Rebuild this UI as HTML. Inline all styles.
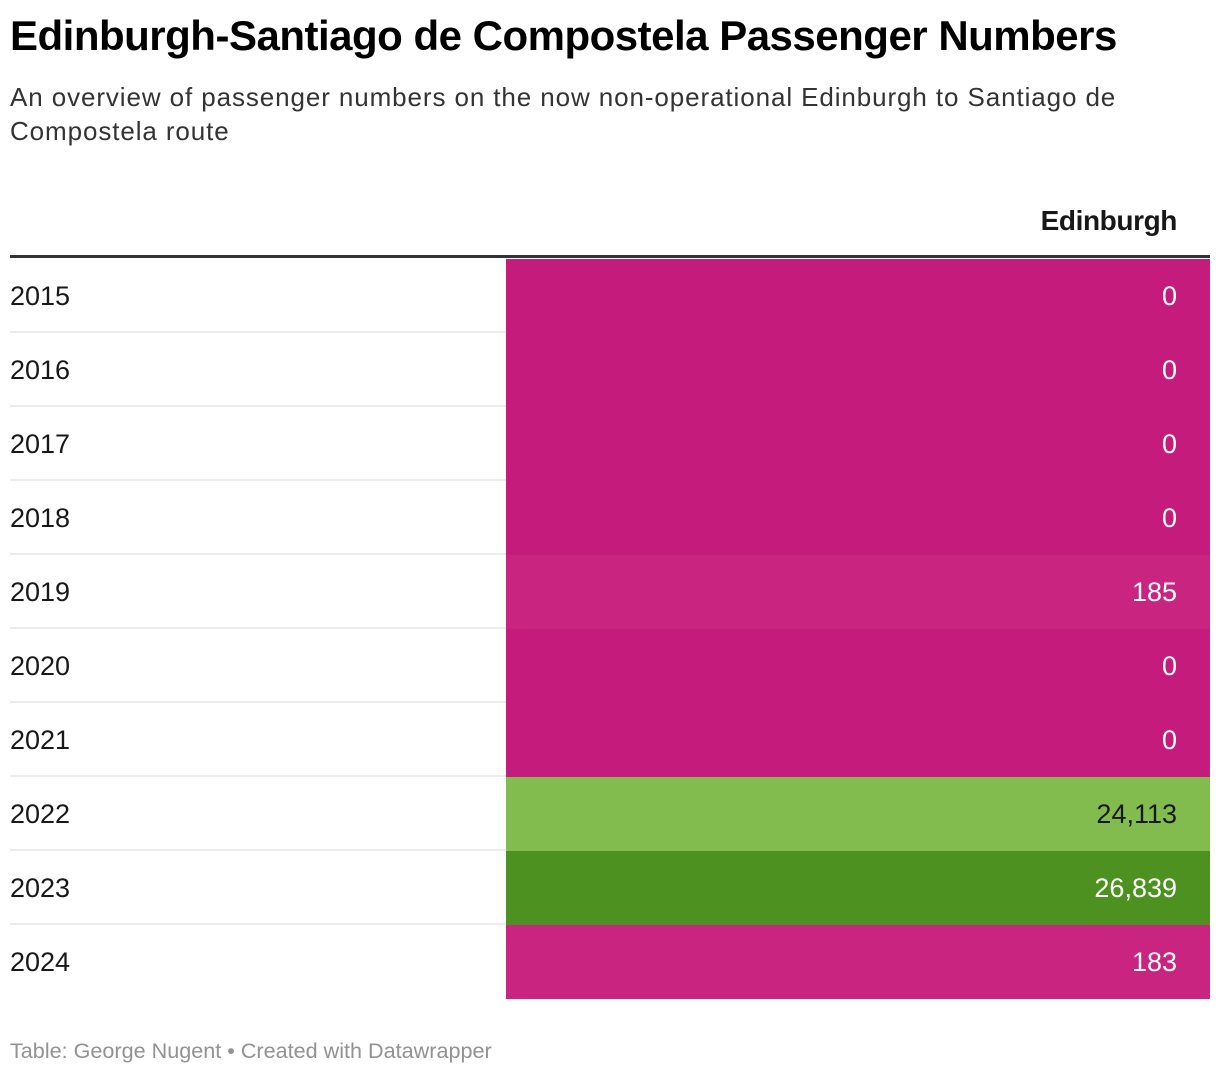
<!DOCTYPE html>
<html><head><meta charset="utf-8"><style>
body{margin:0;background:#fff;font-family:"Liberation Sans",Arial,sans-serif;color:#181818;width:1220px;height:1074px;overflow:hidden;position:relative}
#title{position:absolute;left:10px;top:12px;font-size:42px;font-weight:bold;letter-spacing:-0.5px;white-space:nowrap;color:#000}
#sub{position:absolute;left:10px;top:80px;font-size:26px;line-height:34px;width:1180px;color:#333;letter-spacing:0.9px;white-space:nowrap}
#head{position:absolute;right:43px;top:205px;font-size:28px;font-weight:bold;letter-spacing:-0.4px}
#hline{position:absolute;left:10px;top:255px;width:1200px;height:3px;background:#333}
.row{position:absolute;left:10px;width:1200px;height:74px;border-bottom:2px solid #ececec;box-sizing:border-box}
.yr{position:absolute;left:0;top:22px;font-size:27px}
.cell{position:absolute;left:496px;top:0;width:704px;height:74px}
.val{position:absolute;right:33px;top:22px;font-size:27px}
#foot{position:absolute;left:10px;top:1038px;font-size:21.6px;color:#929292}
</style></head><body>
<div id="title">Edinburgh-Santiago de Compostela Passenger Numbers</div>
<div id="sub">An overview of passenger numbers on the now non-operational Edinburgh to Santiago de<br>Compostela route</div>
<div id="head">Edinburgh</div>
<div id="hline"></div>
<div id="table"></div>
<div id="foot">Table: George Nugent • Created with Datawrapper</div>
<script>
const years=["2015","2016","2017","2018","2019","2020","2021","2022","2023","2024"];
const passengers=[0,0,0,0,185,0,0,24113,26839,183];
function colorFor(v){
  if(v>=25000) return ["#4d9221","#fff"];
  if(v>=10000) return ["#82bc4f","#181818"];
  if(v>0) return ["#c9247f","#fff"];
  return ["#c51b7d","#fff"];
}
const t=document.getElementById('table');
years.forEach((y,i)=>{
  const r=document.createElement('div');r.className='row';r.style.top=(259+i*74)+'px';
  if(i===years.length-1) r.style.borderBottom='none';
  
  
  const yr=document.createElement('div');yr.className='yr';yr.textContent=y;
  
  
  const c=document.createElement('div');c.className='cell';
  const [bg,fg]=colorFor(passengers[i]);c.style.background=bg;
  
  
  const v=document.createElement('div');v.className='val';v.style.color=fg;
  v.textContent=passengers[i].toLocaleString('en-US');
  
  
  c.appendChild(v);r.appendChild(yr);r.appendChild(c);t.appendChild(r);
});
</script>
</body></html>
